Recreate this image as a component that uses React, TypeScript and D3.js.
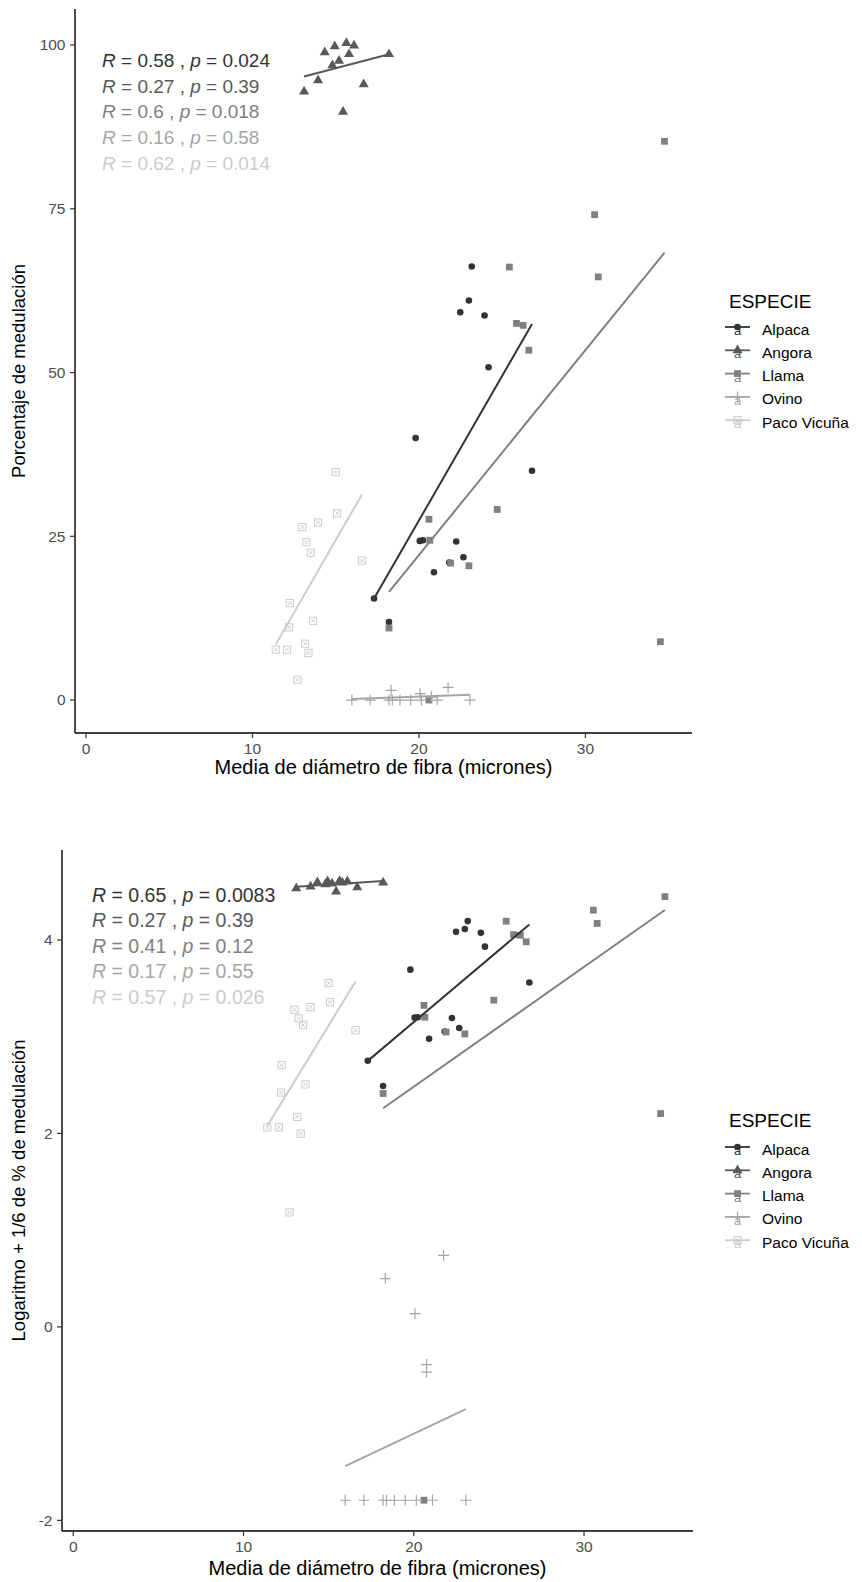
import * as d3 from "d3";

const species = ["Alpaca", "Angora", "Llama", "Ovino", "Paco Vicuña"];
const greys = ["#333333", "#595959", "#808080", "#A6A6A6", "#CCCCCC"];
const shapes = ["circle", "triangle", "square", "plus", "boxcross"];

// diámetro medio (micrones)
const alpacaX = [23.17, 23.0, 22.48, 23.94, 24.18, 19.8, 26.79, 20.24, 20.05, 22.24, 22.67, 21.82, 20.9, 17.3, 18.2];
const angoraX = [13.1, 13.94, 14.34, 14.94, 15.64, 16.1, 15.8, 15.2, 14.8, 16.68, 15.44, 18.2];
const llamaX = [34.75, 30.55, 30.77, 25.43, 25.86, 26.26, 26.6, 24.7, 20.6, 20.65, 21.9, 23.0, 34.5, 20.6, 18.2];
const ovinoX = [15.97, 17.07, 18.2, 18.4, 18.86, 19.5, 20.15, 21.1, 23.06, 21.75, 18.33, 20.07, 20.75, 20.75];
const pacoX = [15.0, 15.08, 13.0, 13.94, 13.24, 13.5, 16.58, 12.24, 12.2, 13.64, 11.4, 12.08, 13.16, 13.36, 12.7];

// porcentaje de medulación
const alpacaPct = [66.2, 61.0, 59.2, 58.7, 50.8, 40.0, 35.0, 24.4, 24.3, 24.2, 21.8, 21.0, 19.5, 15.5, 11.9];
const angoraPct = [92.9, 94.6, 98.9, 99.8, 100.3, 99.9, 98.6, 97.6, 96.9, 94.0, 89.8, 98.6];
const llamaPct = [85.3, 74.1, 64.6, 66.1, 57.5, 57.2, 53.4, 29.1, 27.6, 24.4, 20.9, 20.5, 8.9, 0, 11.0];
const ovinoPct = [0, 0, 0, 0, 0, 0, 0, 0, 0, 1.93, 1.48, 0.98, 0.51, 0.46];
const pacoPct = [34.8, 28.5, 26.4, 27.1, 24.1, 22.5, 21.3, 14.8, 11.1, 12.1, 7.7, 7.7, 8.6, 7.2, 3.1];

// logaritmo + 1/6
const alpacaLog = [4.195, 4.113, 4.084, 4.075, 3.931, 3.693, 3.56, 3.201, 3.197, 3.193, 3.09, 3.053, 2.979, 2.752, 2.491];
const angoraLog = [4.533, 4.551, 4.596, 4.605, 4.61, 4.606, 4.593, 4.583, 4.575, 4.545, 4.499, 4.593];
const llamaLog = [4.448, 4.308, 4.171, 4.194, 4.055, 4.049, 3.981, 3.377, 3.324, 3.201, 3.048, 3.029, 2.205, -1.792, 2.413];
const ovinoLog = [-1.792, -1.792, -1.792, -1.792, -1.792, -1.792, -1.792, -1.792, -1.792, 0.74, 0.499, 0.137, -0.39, -0.467];
const pacoLog = [3.5545, 3.356, 3.28, 3.306, 3.189, 3.121, 3.067, 2.706, 2.422, 2.507, 2.063, 2.063, 2.171, 1.997, 1.184];

// rectas de regresión: [x inicio, x fin], [y inicio, y fin]
const fitX = [[17.3, 26.79], [13.1, 18.2], [18.2, 34.75], [15.97, 23.06], [11.4, 16.58]];
const fitPct = [[15.5, 57.4], [95.2, 98.6], [16.5, 68.3], [0.15, 0.8], [8.5, 31.4]];
const fitLog = [[2.75, 4.16], [4.55, 4.61], [2.26, 4.31], [-1.44, -0.85], [2.08, 3.57]];

const corTopR = ["0.58", "0.27", "0.6", "0.16", "0.62"];
const corTopP = ["0.024", "0.39", "0.018", "0.58", "0.014"];
const corBotR = ["0.65", "0.27", "0.41", "0.17", "0.57"];
const corBotP = ["0.0083", "0.39", "0.12", "0.55", "0.026"];

const xTicks = [0, 10, 20, 30];
const pctTicks = [0, 25, 50, 75, 100];
const logTicks = [-2, 0, 2, 4];

const xs = [alpacaX, angoraX, llamaX, ovinoX, pacoX];
const pcts = [alpacaPct, angoraPct, llamaPct, ovinoPct, pacoPct];
const logs = [alpacaLog, angoraLog, llamaLog, ovinoLog, pacoLog];

const font = "'Liberation Sans', Arial, sans-serif";

const Mark = ({ shape, x, y, color }) => {
    if (shape === "circle") return <circle cx={x} cy={y} r={3.3} fill={color} />;
    if (shape === "triangle")
        return <path transform={`translate(${x},${y})`} d={d3.symbol(d3.symbolTriangle, 44)()} fill={color} />;
    if (shape === "square") return <rect x={x - 3.4} y={y - 3.4} width={6.8} height={6.8} fill={color} />;
    if (shape === "plus")
        return <path d={`M${x - 5.5},${y}H${x + 5.5}M${x},${y - 5.5}V${y + 5.5}`} stroke={color} strokeWidth={1.2} fill="none" />;
    return (
        <g stroke={color} strokeWidth={1} fill="none">
            <rect x={x - 3.6} y={y - 3.6} width={7.2} height={7.2} />
            <path d={`M${x - 2},${y - 2}L${x + 2},${y + 2}M${x - 2},${y + 2}L${x + 2},${y - 2}`} />
        </g>
    );
};

const Panel = ({ cfg, ys, fitY, yDomain, yTicks, yTitle, corR, corP }) => {
    const x = d3.scaleLinear().domain([-0.66, 36.4]).range([cfg.x0, cfg.x1]);
    const y = d3.scaleLinear().domain(yDomain).range([cfg.y1, cfg.y0]);
    const midY = (cfg.y0 + cfg.y1) / 2;
    const line = d3.line().x(d => x(d[0])).y(d => y(d[1]));

    return (
        <g fontFamily={font}>
            {species.map((s, i) =>
                <g key={s}>
                    {xs[i].map((v, j) =>
                        <Mark key={j} shape={shapes[i]} x={x(v)} y={y(ys[i][j])} color={greys[i]} />
                    )}
                </g>
            )}
            {species.map((s, i) =>
                <path key={s} d={line([[fitX[i][0], fitY[i][0]], [fitX[i][1], fitY[i][1]]])}
                    stroke={greys[i]} strokeWidth={2} fill="none" />
            )}
            {corR.map((r, i) =>
                <text key={i} x={cfg.textX} y={cfg.textY0 + i * cfg.textDy} fontSize={cfg.corSize} fill={greys[i]}>
                    <tspan fontStyle="italic">R</tspan>{` = ${r} , `}<tspan fontStyle="italic">p</tspan>{` = ${corP[i]}`}
                </text>
            )}
            {/* ejes */}
            <line x1={cfg.x0} x2={cfg.x1} y1={cfg.y1} y2={cfg.y1} stroke="#000" strokeWidth={1.4} />
            <line x1={cfg.x0} x2={cfg.x0} y1={cfg.y0} y2={cfg.y1} stroke="#000" strokeWidth={1.4} />
            {xTicks.map(t =>
                <g key={t} transform={`translate(${x(t)},${cfg.y1})`}>
                    <line y2={5} stroke="#333" strokeWidth={1.2} />
                    <text y={20.5} textAnchor="middle" fontSize={15.5} fill="#4D4D4D">{t}</text>
                </g>
            )}
            {yTicks.map(t =>
                <g key={t} transform={`translate(${cfg.x0},${y(t)})`}>
                    <line x2={-5} stroke="#333" strokeWidth={1.2} />
                    <text x={-9.5} dy="0.35em" textAnchor="end" fontSize={15.5} fill="#4D4D4D">{t}</text>
                </g>
            )}
            <text x={(cfg.x0 + cfg.x1) / 2} y={cfg.xTitleY} textAnchor="middle" fontSize={20} fill="#000">
                Media de diámetro de fibra (micrones)
            </text>
            <text transform={`translate(${cfg.yTitleX},${midY}) rotate(-90)`} textAnchor="middle" fontSize={18.5} fill="#000">
                {yTitle}
            </text>
            {/* leyenda */}
            <text x={729} y={cfg.legTitleY} fontSize={19} fill="#000">ESPECIE</text>
            {species.map((s, i) => {
                const cy = cfg.legY0 + i * cfg.legDy;
                return (
                    <g key={s}>
                        <line x1={725} x2={750} y1={cy - 2} y2={cy - 2} stroke={greys[i]} strokeWidth={1.8} />
                        <text x={737.5} y={cy + 6} textAnchor="middle" fontSize={13} fill={greys[i]}>a</text>
                        <Mark shape={shapes[i]} x={737.5} y={cy - 2} color={greys[i]} />
                        <text x={762} y={cy + 5.5} fontSize={15.5} fill="#000">{s}</text>
                    </g>
                );
            })}
        </g>
    );
};

const topCfg = { x0: 75, x1: 692, y0: 9, y1: 733, xTitleY: 774, yTitleX: 25, textX: 102, textY0: 66.7, textDy: 25.8, corSize: 19, legTitleY: 308, legY0: 329, legDy: 23.3 };
const botCfg = { x0: 62, x1: 693, y0: 850, y1: 1531, xTitleY: 1575, yTitleX: 25, textX: 92, textY0: 901.7, textDy: 25.5, corSize: 19.5, legTitleY: 1127, legY0: 1149, legDy: 23.3 };

export default function App() {
    return (
        <svg width={862} height={1582} style={{ position: "absolute", left: 0, top: 0, background: "#fff" }}>
            <rect width={862} height={1582} fill="#fff" />
            <Panel cfg={topCfg} ys={pcts} fitY={fitPct} yDomain={[-5.03, 105.5]} yTicks={pctTicks}
                yTitle="Porcentaje de medulación" corR={corTopR} corP={corTopP} />
            <Panel cfg={botCfg} ys={logs} fitY={fitLog} yDomain={[-2.11, 4.93]} yTicks={logTicks}
                yTitle="Logaritmo + 1/6 de % de medulación" corR={corBotR} corP={corBotP} />
        </svg>
    );
}
